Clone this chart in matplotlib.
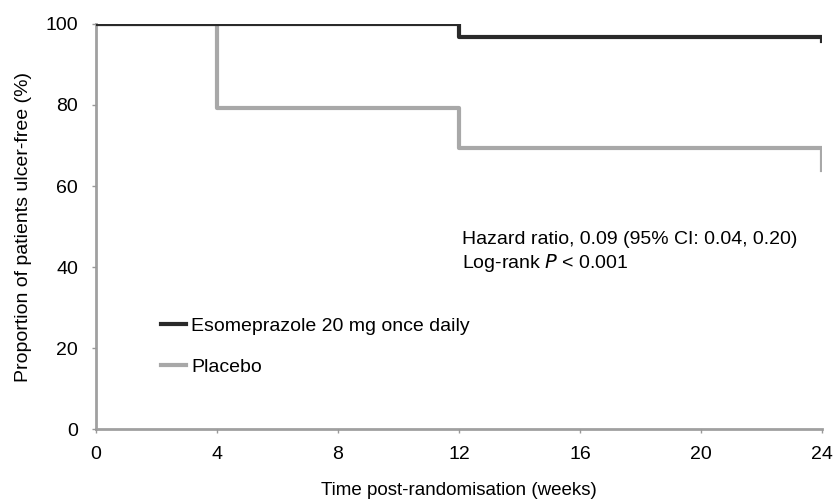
import matplotlib
matplotlib.use('Agg')
import matplotlib.pyplot as plt

plt.rcParams['font.family'] = ['Liberation Sans', 'DejaVu Sans']

# Kaplan-Meier step data (weeks, % ulcer-free)
eso_t = [0, 12, 24, 24]
eso_s = [100, 96.8, 96.8, 95.8]
plc_t = [0, 4, 12, 24, 24]
plc_s = [100, 79.3, 69.5, 69.5, 64]

x_ticks = [0, 4, 8, 12, 16, 20, 24]
y_ticks = [0, 20, 40, 60, 80, 100]

fig = plt.figure(figsize=(8.36, 4.99), dpi=100)
ax = fig.add_axes([0.115, 0.140, 0.868, 0.812])

ax.step(plc_t, plc_s, where='post', color='#a8a8a8', lw=3,
        label='Placebo', zorder=2)
ax.step(eso_t, eso_s, where='post', color='#2a2a2a', lw=3,
        label='Esomeprazole 20 mg once daily', zorder=3)

ax.set_xlim(0, 24)
ax.set_ylim(0, 100)
ax.set_xticks(x_ticks)
ax.set_yticks(y_ticks)
ax.tick_params(labelsize=14, length=3, color='#999999', width=1)
ax.tick_params(axis='x', pad=9)
ax.tick_params(axis='y', pad=10)
for side in ['top', 'right']:
    ax.spines[side].set_visible(False)
for side in ['left', 'bottom']:
    ax.spines[side].set_color('#a0a0a0')
    ax.spines[side].set_linewidth(2)
    ax.spines[side].set_zorder(1)

ax.set_xlabel('Time post-randomisation (weeks)', fontsize=13.5, labelpad=14)
ax.set_ylabel('Proportion of patients ulcer-free (%)', fontsize=14, labelpad=10)

ax.text(12.1, 46.9, 'Hazard ratio, 0.09 (95% CI: 0.04, 0.20)', fontsize=14,
        va='center')
ax.text(12.1, 41.0, 'Log-rank $\\it{P}$ < 0.001', fontsize=14, va='center')

h, l = ax.get_legend_handles_labels()
ax.legend(h[::-1], l[::-1], loc='center left', bbox_to_anchor=(0.065, 0.203),
          frameon=False, fontsize=14, handlelength=1.3, handletextpad=0.25,
          labelspacing=1.2)

fig.savefig('out.png', dpi=100)
